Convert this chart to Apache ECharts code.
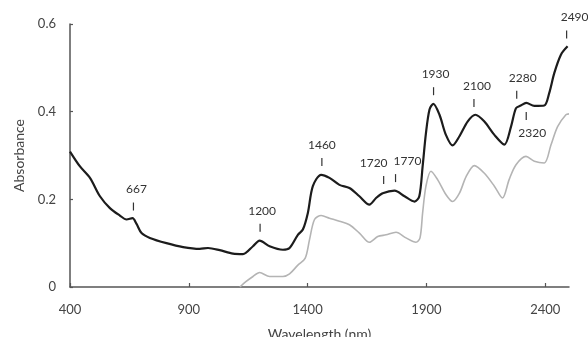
<!DOCTYPE html>
<html>
<head>
<meta charset="utf-8">
<script src="https://cdn.jsdelivr.net/npm/echarts@6/dist/echarts.min.js"></script>
<style>
  html, body { margin: 0; padding: 0; background: #fff; }
  #chart { width: 588px; height: 337px; }
</style>
</head>
<body>
<div id="chart"></div>
<script>
// Reflectance-derived absorbance spectra (wavelength in nm)
const darkWavelengths = [400, 442, 484, 526, 568, 610, 638, 663, 680, 701, 736, 806, 876, 946, 981, 1030, 1086, 1128, 1170, 1198, 1240, 1296, 1324, 1359, 1380, 1401, 1422, 1457, 1492, 1534, 1576, 1618, 1660, 1688, 1716, 1766, 1808, 1850, 1870, 1884, 1898, 1913, 1929, 1955, 1982, 2010, 2039, 2074, 2106, 2143, 2186, 2228, 2256, 2277, 2297, 2320, 2354, 2396, 2417, 2438, 2466, 2494];
const darkAbsorbance = [0.309, 0.275, 0.249, 0.207, 0.180, 0.163, 0.154, 0.157, 0.144, 0.123, 0.112, 0.100, 0.091, 0.087, 0.089, 0.084, 0.076, 0.075, 0.093, 0.106, 0.093, 0.085, 0.089, 0.119, 0.131, 0.169, 0.230, 0.256, 0.249, 0.233, 0.226, 0.207, 0.188, 0.203, 0.214, 0.220, 0.207, 0.195, 0.207, 0.275, 0.351, 0.405, 0.418, 0.393, 0.347, 0.323, 0.344, 0.378, 0.393, 0.378, 0.347, 0.325, 0.366, 0.408, 0.414, 0.420, 0.413, 0.414, 0.443, 0.488, 0.530, 0.549];

const greyWavelengths = [1115, 1140, 1170, 1198, 1240, 1296, 1324, 1359, 1390, 1408, 1429, 1457, 1492, 1534, 1576, 1618, 1660, 1695, 1730, 1772, 1814, 1856, 1873, 1884, 1898, 1919, 1947, 1982, 2010, 2039, 2067, 2102, 2143, 2186, 2220, 2248, 2277, 2319, 2354, 2396, 2424, 2452, 2487, 2500];
const greyAbsorbance = [0.000, 0.012, 0.024, 0.033, 0.024, 0.024, 0.030, 0.050, 0.066, 0.108, 0.154, 0.163, 0.157, 0.150, 0.142, 0.123, 0.102, 0.115, 0.119, 0.125, 0.112, 0.102, 0.112, 0.169, 0.230, 0.264, 0.245, 0.211, 0.195, 0.214, 0.252, 0.277, 0.260, 0.230, 0.203, 0.245, 0.279, 0.298, 0.287, 0.283, 0.324, 0.366, 0.393, 0.395];

// Absorption features marked on the dark spectrum
const featureWavelengths = [667, 1200, 1460, 1720, 1770, 1930, 2100, 2280, 2320, 2490];
const featureLabels = ['667', '1200', '1460', '1720', '1770', '1930', '2100', '2280', '2320', '2490'];

const xTicks = [400, 900, 1400, 1900, 2400];
const yTicks = [0, 0.2, 0.4, 0.6];

// label placement tweaks (px) so neighbouring labels do not collide
const labelShift = { '667': 3, '1200': 2, '1460': 0, '1720': -10, '1770': 12, '1930': 2, '2100': 3, '2280': 6, '2320': 6, '2490': 8 };
const labelBelow = { '2320': true };

const FONT = 'Lato, "Open Sans", sans-serif';

function pairs(xs, ys) { return xs.map((x, i) => [x, ys[i]]); }

// position a feature marker on the dark curve
function curveAt(w) {
  for (let i = 1; i < darkWavelengths.length; i++) {
    if (w <= darkWavelengths[i]) {
      const x0 = darkWavelengths[i - 1], x1 = darkWavelengths[i];
      const t = (w - x0) / (x1 - x0);
      return darkAbsorbance[i - 1] + t * (darkAbsorbance[i] - darkAbsorbance[i - 1]);
    }
  }
  return darkAbsorbance[darkAbsorbance.length - 1];
}

const featureData = featureWavelengths.map((w, i) => [w, curveAt(w), featureLabels[i]]);

const chart = echarts.init(document.getElementById('chart'), null, { renderer: 'canvas' });

chart.setOption({
  animation: false,
  backgroundColor: '#ffffff',
  grid: { left: 70, right: 19, top: 24, bottom: 50, containLabel: false, outerBoundsMode: 'none' },
  xAxis: {
    type: 'value',
    min: 400,
    max: 2500,
    interval: 500,
    name: 'Wavelength (nm)',
    nameLocation: 'middle',
    nameGap: 40,
    nameTextStyle: { fontFamily: FONT, fontSize: 14, color: '#444' },
    axisLine: { lineStyle: { color: '#555', width: 1.5 } },
    axisTick: { inside: true, length: 4, lineStyle: { color: '#555', width: 1.2 },
                customValues: xTicks },
    axisLabel: { fontFamily: FONT, fontSize: 13, color: '#444', margin: 16,
                 customValues: xTicks, formatter: v => String(v) },
    splitLine: { show: false }
  },
  yAxis: {
    type: 'value',
    min: 0,
    max: 0.6,
    interval: 0.2,
    name: 'Absorbance',
    nameLocation: 'middle',
    nameGap: 44,
    nameTextStyle: { fontFamily: FONT, fontSize: 14, color: '#444' },
    axisLine: { show: true, lineStyle: { color: '#555', width: 1.5 } },
    axisTick: { show: true, inside: true, length: 3, lineStyle: { color: '#555', width: 1.2 } },
    axisLabel: { fontFamily: FONT, fontSize: 13, color: '#444', margin: 14,
                 formatter: v => (yTicks.indexOf(+v.toFixed(1)) >= 0 ? (v === 0 ? '0' : v.toFixed(1)) : '') },
    splitLine: { show: false }
  },
  series: [
    {
      type: 'line',
      name: 'grey',
      data: pairs(greyWavelengths, greyAbsorbance),
      showSymbol: false,
      smooth: 0.3,
      lineStyle: { color: '#b4b4b4', width: 1.6 },
      z: 2
    },
    {
      type: 'line',
      name: 'dark',
      data: pairs(darkWavelengths, darkAbsorbance),
      showSymbol: false,
      smooth: 0.3,
      lineStyle: { color: '#1c1c1c', width: 2.2 },
      z: 3
    },
    {
      type: 'custom',
      name: 'features',
      data: featureData,
      clip: false,
      z: 4,
      renderItem: function (params, api) {
        const label = featureLabels[params.dataIndex];
        const p = api.coord([api.value(0), api.value(1)]);
        const below = !!labelBelow[label];
        const dir = below ? 1 : -1;
        const tickCenter = p[1] + dir * 13;
        const textY = tickCenter + dir * 17;
        return {
          type: 'group',
          children: [
            {
              type: 'line',
              shape: { x1: p[0], y1: tickCenter - 4, x2: p[0], y2: tickCenter + 4 },
              style: { stroke: '#333', lineWidth: 1.2 }
            },
            {
              type: 'text',
              x: p[0] + (labelShift[label] || 0),
              y: textY,
              style: {
                text: label,
                fill: '#333',
                font: '12px ' + FONT,
                align: 'center',
                verticalAlign: 'middle'
              }
            }
          ]
        };
      }
    }
  ]
});
</script>
</body>
</html>
